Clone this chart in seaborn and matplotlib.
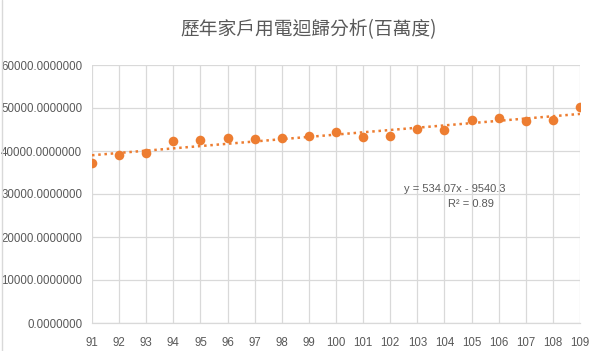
import matplotlib
matplotlib.use("Agg")
import matplotlib.pyplot as plt
import seaborn as sns
import numpy as np
import pandas as pd
from matplotlib.ticker import FuncFormatter, MultipleLocator

years = [91, 92, 93, 94, 95, 96, 97, 98, 99, 100, 101, 102, 103, 104, 105, 106, 107, 108, 109]
usage = [37140, 39000, 39530, 42330, 42560, 42950, 42720, 42950, 43420, 44350,
         43190, 43420, 45120, 44810, 47140, 47600, 46980, 47140, 50160]
title = "歷年家戶用電迴歸分析(百萬度)"
eq_text = "y = 534.07x - 9540.3"
r2_text = "R² = 0.89"

df = pd.DataFrame({"year": years, "usage": usage})

sns.set_theme(style="white")
plt.rcParams['font.family'] = ['Liberation Sans', 'Noto Sans CJK TC', 'DejaVu Sans']

orange = "#ED7D31"
grid = "#D9D9D9"
txt = "#595959"

fig = plt.figure(figsize=(6, 3.51), dpi=100)
ax = fig.add_axes([92 / 600, 1 - 323 / 351, (580 - 92) / 600, (323 - 65) / 351])

sns.regplot(data=df, x="year", y="usage", scatter=False, ci=None, ax=ax,
            line_kws=dict(color=orange, lw=1.8, linestyle=(0, (1, 1.5))))
sns.scatterplot(data=df, x="year", y="usage", ax=ax, color=orange, s=48,
                edgecolor=orange, linewidth=0, zorder=5)

ax.set_xlim(91, 109)
ax.set_ylim(0, 60000)
ax.xaxis.set_major_locator(MultipleLocator(1))
ax.yaxis.set_major_locator(MultipleLocator(10000))
ax.yaxis.set_major_formatter(FuncFormatter(lambda v, p: f"{v:.7f}"))
ax.grid(True, color=grid, lw=0.9)
ax.set_axisbelow(True)
for s in ["top", "right", "left"]:
    ax.spines[s].set_visible(False)
ax.spines["bottom"].set_color(grid)
ax.spines["bottom"].set_linewidth(0.9)
ax.tick_params(axis="both", colors=grid, labelcolor=txt, labelsize=8.3, length=4, width=0.9,
               direction="out")
ax.tick_params(axis="x", pad=6)
ax.tick_params(axis="y", length=5, pad=2)
ax.set_xlabel("")
ax.set_ylabel("")

fig.text(0.515, 1 - 30 / 351, title, ha="center", va="center", fontsize=13.5,
         color=txt, family=['Noto Sans CJK TC', 'DejaVu Sans'])
fig.text(455 / 600, 1 - 189 / 351, eq_text, ha="center", va="center", fontsize=8, color=txt)
fig.text(471 / 600, 1 - 204 / 351, r2_text, ha="center", va="center", fontsize=8, color=txt)

fig.add_artist(plt.Line2D([2 / 600, 2 / 600], [0, 1], transform=fig.transFigure, color=grid, lw=1))

fig.savefig("out.png", dpi=100)
